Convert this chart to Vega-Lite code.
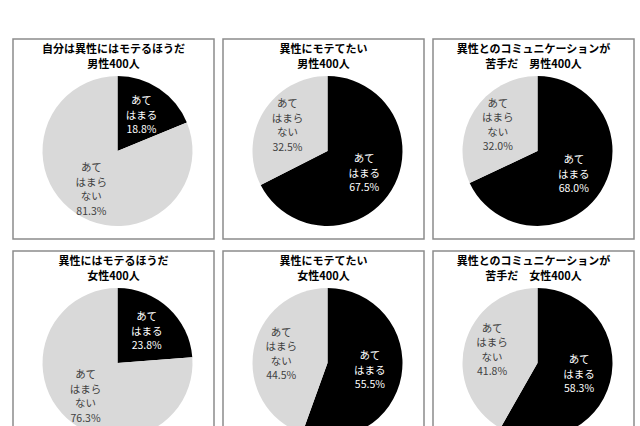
{
  "$schema": "https://vega.github.io/schema/vega-lite/v6.json",
  "description": "異性とのコミュニケーションに関する意識 男女各400人 円グラフ6枚",
  "padding": {"left": 12, "top": 38, "right": 0, "bottom": 0},
  "background": "white",
  "datasets": {
    "pies": [
      {"panel": 1, "k": 1, "cat": "あてはまる", "value": 18.8, "label": "あて\nはまる\n18.8%"},
      {"panel": 1, "k": 2, "cat": "あてはまらない", "value": 81.3, "label": "あて\nはまら\nない\n81.3%"},
      {"panel": 2, "k": 1, "cat": "あてはまる", "value": 67.5, "label": "あて\nはまる\n67.5%"},
      {"panel": 2, "k": 2, "cat": "あてはまらない", "value": 32.5, "label": "あて\nはまら\nない\n32.5%"},
      {"panel": 3, "k": 1, "cat": "あてはまる", "value": 68.0, "label": "あて\nはまる\n68.0%"},
      {"panel": 3, "k": 2, "cat": "あてはまらない", "value": 32.0, "label": "あて\nはまら\nない\n32.0%"},
      {"panel": 4, "k": 1, "cat": "あてはまる", "value": 23.8, "label": "あて\nはまる\n23.8%"},
      {"panel": 4, "k": 2, "cat": "あてはまらない", "value": 76.3, "label": "あて\nはまら\nない\n76.3%"},
      {"panel": 5, "k": 1, "cat": "あてはまる", "value": 55.5, "label": "あて\nはまる\n55.5%"},
      {"panel": 5, "k": 2, "cat": "あてはまらない", "value": 44.5, "label": "あて\nはまら\nない\n44.5%"},
      {"panel": 6, "k": 1, "cat": "あてはまる", "value": 58.3, "label": "あて\nはまる\n58.3%"},
      {"panel": 6, "k": 2, "cat": "あてはまらない", "value": 41.8, "label": "あて\nはまら\nない\n41.8%"}
    ]
  },
  "columns": 3,
  "spacing": {"row": 10, "column": 7},
  "concat": [
    {
      "width": 201, "height": 200,
      "view": {"stroke": "#8c8c8c", "strokeWidth": 1.5},
      "title": {"text": ["自分は異性にはモテるほうだ", "男性400人"]},
      "data": {"name": "pies"},
      "transform": [{"filter": "datum.panel == 1"}],
      "layer": [
        {
          "mark": {"type": "arc", "radius": 75, "xOffset": 4, "yOffset": 12},
          "encoding": {
            "theta": {"field": "value", "type": "quantitative", "stack": true},
            "order": {"field": "k"},
            "color": {"field": "cat", "type": "nominal", "scale": {"domain": ["あてはまる", "あてはまらない"], "range": ["#000000", "#d9d9d9"]}, "legend": null}
          }
        },
        {
          "mark": {"type": "text", "radius": 43, "xOffset": 4, "yOffset": 12, "dy": -14, "color": "#ffffff"},
          "encoding": {
            "theta": {"field": "value", "type": "quantitative", "stack": true},
            "order": {"field": "k"},
            "text": {"condition": {"test": "datum.k == 1", "field": "label"}, "value": ""}
          }
        },
        {
          "mark": {"type": "text", "radius": 47, "xOffset": 4, "yOffset": 12, "dy": -22, "color": "#404040"},
          "encoding": {
            "theta": {"field": "value", "type": "quantitative", "stack": true},
            "order": {"field": "k"},
            "text": {"condition": {"test": "datum.k == 2", "field": "label"}, "value": ""}
          }
        }
      ]
    },
    {
      "width": 201, "height": 200,
      "view": {"stroke": "#8c8c8c", "strokeWidth": 1.5},
      "title": {"text": ["異性にモテてたい", "男性400人"]},
      "data": {"name": "pies"},
      "transform": [{"filter": "datum.panel == 2"}],
      "layer": [
        {
          "mark": {"type": "arc", "radius": 75, "xOffset": 4, "yOffset": 12},
          "encoding": {
            "theta": {"field": "value", "type": "quantitative", "stack": true},
            "order": {"field": "k"},
            "color": {"field": "cat", "type": "nominal", "scale": {"domain": ["あてはまる", "あてはまらない"], "range": ["#000000", "#d9d9d9"]}, "legend": null}
          }
        },
        {
          "mark": {"type": "text", "radius": 43, "xOffset": 4, "yOffset": 12, "dy": -14, "color": "#ffffff"},
          "encoding": {
            "theta": {"field": "value", "type": "quantitative", "stack": true},
            "order": {"field": "k"},
            "text": {"condition": {"test": "datum.k == 1", "field": "label"}, "value": ""}
          }
        },
        {
          "mark": {"type": "text", "radius": 47, "xOffset": 4, "yOffset": 12, "dy": -22, "color": "#404040"},
          "encoding": {
            "theta": {"field": "value", "type": "quantitative", "stack": true},
            "order": {"field": "k"},
            "text": {"condition": {"test": "datum.k == 2", "field": "label"}, "value": ""}
          }
        }
      ]
    },
    {
      "width": 201, "height": 200,
      "view": {"stroke": "#8c8c8c", "strokeWidth": 1.5},
      "title": {"text": ["異性とのコミュニケーションが", "苦手だ　男性400人"]},
      "data": {"name": "pies"},
      "transform": [{"filter": "datum.panel == 3"}],
      "layer": [
        {
          "mark": {"type": "arc", "radius": 75, "xOffset": 4, "yOffset": 12},
          "encoding": {
            "theta": {"field": "value", "type": "quantitative", "stack": true},
            "order": {"field": "k"},
            "color": {"field": "cat", "type": "nominal", "scale": {"domain": ["あてはまる", "あてはまらない"], "range": ["#000000", "#d9d9d9"]}, "legend": null}
          }
        },
        {
          "mark": {"type": "text", "radius": 43, "xOffset": 4, "yOffset": 12, "dy": -14, "color": "#ffffff"},
          "encoding": {
            "theta": {"field": "value", "type": "quantitative", "stack": true},
            "order": {"field": "k"},
            "text": {"condition": {"test": "datum.k == 1", "field": "label"}, "value": ""}
          }
        },
        {
          "mark": {"type": "text", "radius": 47, "xOffset": 4, "yOffset": 12, "dy": -22, "color": "#404040"},
          "encoding": {
            "theta": {"field": "value", "type": "quantitative", "stack": true},
            "order": {"field": "k"},
            "text": {"condition": {"test": "datum.k == 2", "field": "label"}, "value": ""}
          }
        }
      ]
    },
    {
      "width": 201, "height": 200,
      "view": {"stroke": "#8c8c8c", "strokeWidth": 1.5},
      "title": {"text": ["異性にはモテるほうだ", "女性400人"]},
      "data": {"name": "pies"},
      "transform": [{"filter": "datum.panel == 4"}],
      "layer": [
        {
          "mark": {"type": "arc", "radius": 75, "xOffset": 4, "yOffset": 12},
          "encoding": {
            "theta": {"field": "value", "type": "quantitative", "stack": true},
            "order": {"field": "k"},
            "color": {"field": "cat", "type": "nominal", "scale": {"domain": ["あてはまる", "あてはまらない"], "range": ["#000000", "#d9d9d9"]}, "legend": null}
          }
        },
        {
          "mark": {"type": "text", "radius": 43, "xOffset": 4, "yOffset": 12, "dy": -14, "color": "#ffffff"},
          "encoding": {
            "theta": {"field": "value", "type": "quantitative", "stack": true},
            "order": {"field": "k"},
            "text": {"condition": {"test": "datum.k == 1", "field": "label"}, "value": ""}
          }
        },
        {
          "mark": {"type": "text", "radius": 47, "xOffset": 4, "yOffset": 12, "dy": -22, "color": "#404040"},
          "encoding": {
            "theta": {"field": "value", "type": "quantitative", "stack": true},
            "order": {"field": "k"},
            "text": {"condition": {"test": "datum.k == 2", "field": "label"}, "value": ""}
          }
        }
      ]
    },
    {
      "width": 201, "height": 200,
      "view": {"stroke": "#8c8c8c", "strokeWidth": 1.5},
      "title": {"text": ["異性にモテてたい", "女性400人"]},
      "data": {"name": "pies"},
      "transform": [{"filter": "datum.panel == 5"}],
      "layer": [
        {
          "mark": {"type": "arc", "radius": 75, "xOffset": 4, "yOffset": 12},
          "encoding": {
            "theta": {"field": "value", "type": "quantitative", "stack": true},
            "order": {"field": "k"},
            "color": {"field": "cat", "type": "nominal", "scale": {"domain": ["あてはまる", "あてはまらない"], "range": ["#000000", "#d9d9d9"]}, "legend": null}
          }
        },
        {
          "mark": {"type": "text", "radius": 43, "xOffset": 4, "yOffset": 12, "dy": -14, "color": "#ffffff"},
          "encoding": {
            "theta": {"field": "value", "type": "quantitative", "stack": true},
            "order": {"field": "k"},
            "text": {"condition": {"test": "datum.k == 1", "field": "label"}, "value": ""}
          }
        },
        {
          "mark": {"type": "text", "radius": 47, "xOffset": 4, "yOffset": 12, "dy": -22, "color": "#404040"},
          "encoding": {
            "theta": {"field": "value", "type": "quantitative", "stack": true},
            "order": {"field": "k"},
            "text": {"condition": {"test": "datum.k == 2", "field": "label"}, "value": ""}
          }
        }
      ]
    },
    {
      "width": 201, "height": 200,
      "view": {"stroke": "#8c8c8c", "strokeWidth": 1.5},
      "title": {"text": ["異性とのコミュニケーションが", "苦手だ　女性400人"]},
      "data": {"name": "pies"},
      "transform": [{"filter": "datum.panel == 6"}],
      "layer": [
        {
          "mark": {"type": "arc", "radius": 75, "xOffset": 4, "yOffset": 12},
          "encoding": {
            "theta": {"field": "value", "type": "quantitative", "stack": true},
            "order": {"field": "k"},
            "color": {"field": "cat", "type": "nominal", "scale": {"domain": ["あてはまる", "あてはまらない"], "range": ["#000000", "#d9d9d9"]}, "legend": null}
          }
        },
        {
          "mark": {"type": "text", "radius": 43, "xOffset": 4, "yOffset": 12, "dy": -14, "color": "#ffffff"},
          "encoding": {
            "theta": {"field": "value", "type": "quantitative", "stack": true},
            "order": {"field": "k"},
            "text": {"condition": {"test": "datum.k == 1", "field": "label"}, "value": ""}
          }
        },
        {
          "mark": {"type": "text", "radius": 47, "xOffset": 4, "yOffset": 12, "dy": -22, "color": "#404040"},
          "encoding": {
            "theta": {"field": "value", "type": "quantitative", "stack": true},
            "order": {"field": "k"},
            "text": {"condition": {"test": "datum.k == 2", "field": "label"}, "value": ""}
          }
        }
      ]
    }
  ],
  "config": {
    "text": {"font": "Noto Sans CJK JP", "fontSize": 10.5, "lineHeight": 14.5, "lineBreak": "\n", "align": "center", "baseline": "middle"},
    "title": {"font": "Noto Sans CJK JP", "fontSize": 11, "fontWeight": "bold", "color": "#000000", "lineHeight": 15, "offset": -31, "anchor": "middle", "baseline": "bottom"}
  }
}
